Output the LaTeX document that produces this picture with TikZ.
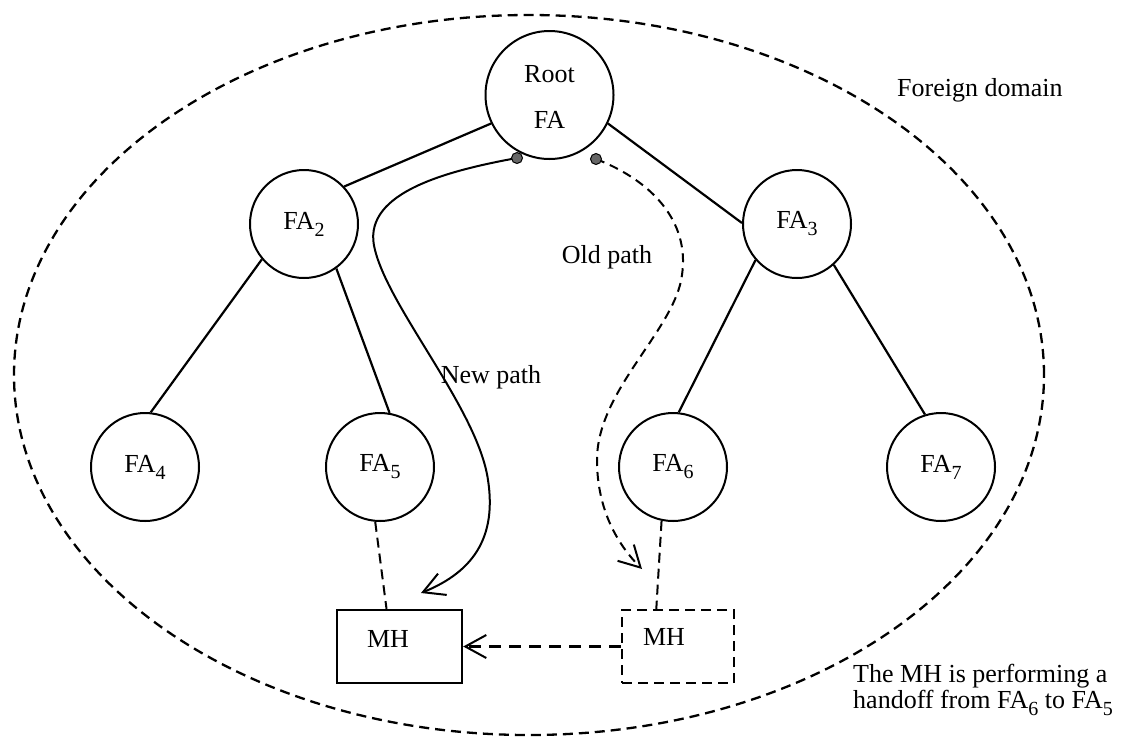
\documentclass[tikz,border=0pt]{standalone}
\usepackage{fontspec}
\setmainfont{Liberation Serif}
\usetikzlibrary{arrows.meta,calc}
\newcommand\fasub[1]{FA\raisebox{-7pt}{\fontsize{20}{20}\selectfont #1}}

\begin{document}
\begin{tikzpicture}[x=1pt,y=-1pt,
  every node/.style={font=\fontsize{26}{30}\selectfont},
  fa/.style={circle,draw,line width=2pt,minimum size=108pt,inner sep=0pt},
  rootfa/.style={fa,minimum size=128pt},
  tree/.style={line width=2.2pt},
  domainline/.style={line width=2.3pt,dash pattern=on 10pt off 6pt},
  attach/.style={line width=2pt,dash pattern=on 10pt off 6pt},
  barb/.style={-{Straight Barb[length=21pt,width=23pt,line width=2pt]}},
  newpath/.style={line width=2pt,barb},
  oldpath/.style={line width=2pt,dash pattern=on 9pt off 6pt,barb},
  mhbox/.style={draw,line width=2.4pt,minimum width=125pt,minimum height=73pt,inner sep=0pt},
  oldbox/.style={draw,line width=2.2pt,dash pattern=on 10pt off 6pt,minimum width=112pt,minimum height=73pt,inner sep=0pt},
  move/.style={line width=2.2pt,dash pattern=on 12pt off 8pt,barb},
  dot/.style={circle,draw,line width=1pt,fill=black!60,minimum size=11pt,inner sep=0pt},
  lbl/.style={inner sep=0pt}]
\useasboundingbox (0,0) rectangle (1126,737);

% the foreign domain
\draw[domainline] (529,375) ellipse [x radius=515pt, y radius=360pt];
\node[lbl,anchor=base west] (fdlabel) at (897,96) {Foreign domain};

% hierarchy of foreign agents
\node[rootfa] (root) at (549.5,95) {};
\node[lbl] (rootl1) at (549.5,74) {Root};
\node[lbl] (rootl2) at (549.5,120) {FA};
\node[fa] (fa2) at (304,224) {\fasub{2}};
\node[fa] (fa3) at (797,224) {\fasub{3}};
\node[fa] (fa4) at (145,467) {\fasub{4}};
\node[fa] (fa5) at (380,467) {\fasub{5}};
\node[fa] (fa6) at (673,467) {\fasub{6}};
\node[fa] (fa7) at (941,467) {\fasub{7}};

\draw[tree] (root.206) -- (fa2.43);
\draw[tree] (root.334) -- (fa3.179);
\draw[tree] (fa2.220) -- (fa4.84);
\draw[tree] (fa2.306) -- (fa5.80);
\draw[tree] (fa3.221) -- (fa6.84);
\draw[tree] (fa3.312) -- (fa7.107);

% mobile host, new and old position
\node[mhbox] (mhnew) at (399.5,646.5) {};
\node[lbl] (mhnewl) at (388,639) {MH};
\node[oldbox] (mhold) at (678,646.5) {};
\node[lbl] (mholdl) at (664,637) {MH};

\draw[attach] (fa5.265) -- (mhnew.109);
\draw[attach] (fa6.258) -- (mhold.120);
\draw[move] (mhold.west) -- (mhnew.east);

% new and old routing paths
\coordinate (newsrc) at (517,158);
\coordinate (oldsrc) at (596,159);
\coordinate (newtip) at (421,593);
\coordinate (oldtip) at (642,569);

\draw[newpath] (newsrc) .. controls (440,172) and (360,195) .. (375,250)
  .. controls (390,310) and (478,410) .. (488,480)
  .. controls (498,545) and (465,575) .. (newtip);
\draw[oldpath] (oldsrc) .. controls (650,180) and (690,220) .. (682,275)
  .. controls (675,330) and (597,390) .. (597,460)
  .. controls (597,510) and (618,545) .. (oldtip);

\node[dot] (newdot) at (newsrc) {};
\node[dot] (olddot) at (oldsrc) {};

\node[lbl] (newl) at (491,377) {New path};
\node[lbl] (oldl) at (607,257) {Old path};

% caption of the handoff
\node[lbl,anchor=base west,align=left,font=\fontsize{26}{26}\selectfont] (note) at (853,708)
  {The MH is performing a\\handoff from \fasub{6} to \fasub{5}};
\end{tikzpicture}
\end{document}
